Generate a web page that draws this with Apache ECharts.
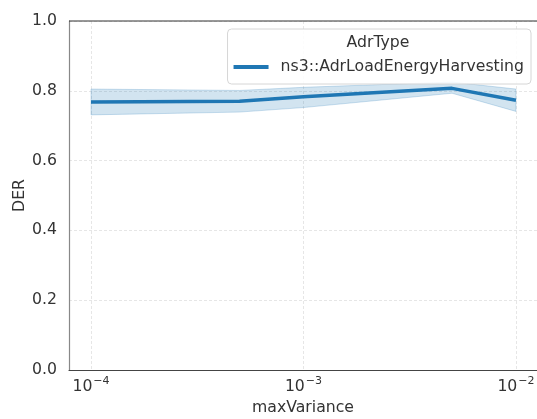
<!DOCTYPE html>
<html>
<head>
<meta charset="utf-8">
<script src="https://cdn.jsdelivr.net/npm/echarts@6/dist/echarts.min.js"></script>
<style>
  html, body { margin: 0; padding: 0; background: #fff; }
  #main { width: 537px; height: 419px; }
</style>
</head>
<body>
<div id="main"></div>
<script>
// maxVariance values (log x axis)
const maxVariance = [1e-4, 5e-4, 1e-3, 5e-3, 1e-2];
// mean DER per maxVariance
const derMean = [0.768, 0.770, 0.783, 0.807, 0.773];
// confidence band
const derLow = [0.731, 0.739, 0.752, 0.793, 0.741];
const derHigh = [0.805, 0.801, 0.810, 0.825, 0.805];
const seriesName = "ns3::AdrLoadEnergyHarvesting";
const legendTitle = "AdrType";

const myChart = echarts.init(document.getElementById("main"));

const lineData = maxVariance.map((x, i) => [x, derMean[i]]);
const bandData = maxVariance.map((x, i) => [x, derLow[i], derHigh[i]]);

const textColor = "#333";
const font = "DejaVu Sans";
const fs = 15.7;

var option = {
  animation: false,
  textStyle: { fontFamily: font },
  grid: { left: 69, right: 0, top: 21, bottom: 49, containLabel: false, outerBoundsMode: "none" },
  legend: {
    data: [{ name: seriesName, icon: "rect" }],
    right: 6,
    top: 29,
    padding: [30, 7, 9, 6],
    itemWidth: 35,
    itemHeight: 4,
    backgroundColor: "rgba(255,255,255,0.85)",
    borderColor: "#d6d6d6",
    borderWidth: 1,
    borderRadius: 4,
    textStyle: { fontFamily: font, fontSize: fs, color: textColor, padding: [0, 0, 0, 7] },
  },
  xAxis: {
    type: "log",
    logBase: 10,
    min: 7.88e-5,
    max: 0.01256,
    name: "maxVariance",
    nameLocation: "middle",
    nameGap: 30,
    nameMoveOverlap: false,
    nameTextStyle: { fontFamily: font, fontSize: fs, color: textColor },
    axisLine: { show: true, lineStyle: { color: "#444", width: 1.2 } },
    axisTick: { show: false },
    minorTick: { show: false },
    axisLabel: {
      showMinLabel: false,
      showMaxLabel: false,
      color: textColor,
      margin: 6,
      formatter: function (v) {
        const e = Math.round(Math.log10(v));
        return "{b|10}{e|" + String(e).replace("-", "\u2212") + "}";
      },
      rich: {
        b: { fontFamily: font, fontSize: fs, color: textColor, verticalAlign: "bottom", lineHeight: 19 },
        e: { fontFamily: font, fontSize: 11, color: textColor, verticalAlign: "bottom", padding: [0, 0, 8, 1] },
      },
    },
    splitLine: { show: true, lineStyle: { color: "#e0e0e0", type: [3, 2], width: 0.8 } },
  },
  yAxis: {
    type: "value",
    min: 0,
    max: 1,
    interval: 0.2,
    name: "DER",
    nameLocation: "middle",
    nameGap: 41,
    nameMoveOverlap: false,
    nameTextStyle: { fontFamily: font, fontSize: fs, color: textColor },
    axisLine: { show: true, lineStyle: { color: "#888", width: 1.2 } },
    axisTick: { show: false },
    axisLabel: {
      fontFamily: font,
      fontSize: fs,
      color: textColor,
      margin: 12,
      formatter: v => v.toFixed(1),
    },
    splitLine: { show: true, lineStyle: { color: "#e0e0e0", type: [3, 2], width: 0.8 } },
  },
  graphic: [
    // top spine
    { type: "line", shape: { x1: 69, y1: 21, x2: 537, y2: 21 }, style: { stroke: "#333", lineWidth: 1.2 }, z: 10 },
    // legend title
    {
      type: "text", x: 378, y: 43, z: 20,
      style: { text: legendTitle, fontFamily: font, fontSize: fs, fill: textColor, align: "center", verticalAlign: "middle" },
    },
  ],
  series: [
    {
      name: "band",
      type: "custom",
      silent: true,
      data: bandData,
      renderItem: function (params, api) {
        if (params.dataIndex !== 0) return null;
        const top = bandData.map(d => api.coord([d[0], d[2]]));
        const bottom = bandData.map(d => api.coord([d[0], d[1]])).reverse();
        return {
          type: "polygon",
          shape: { points: top.concat(bottom) },
          style: { fill: "rgba(31,119,180,0.2)", stroke: "rgba(31,119,180,0.22)", lineWidth: 1 },
        };
      },
      z: 1,
    },
    {
      name: seriesName,
      type: "line",
      data: lineData,
      symbol: "none",
      showSymbol: false,
      lineStyle: { color: "#1f77b4", width: 3.5 },
      itemStyle: { color: "#1f77b4" },
      z: 3,
    },
  ],
};
option && myChart.setOption(option);
</script>
</body>
</html>
